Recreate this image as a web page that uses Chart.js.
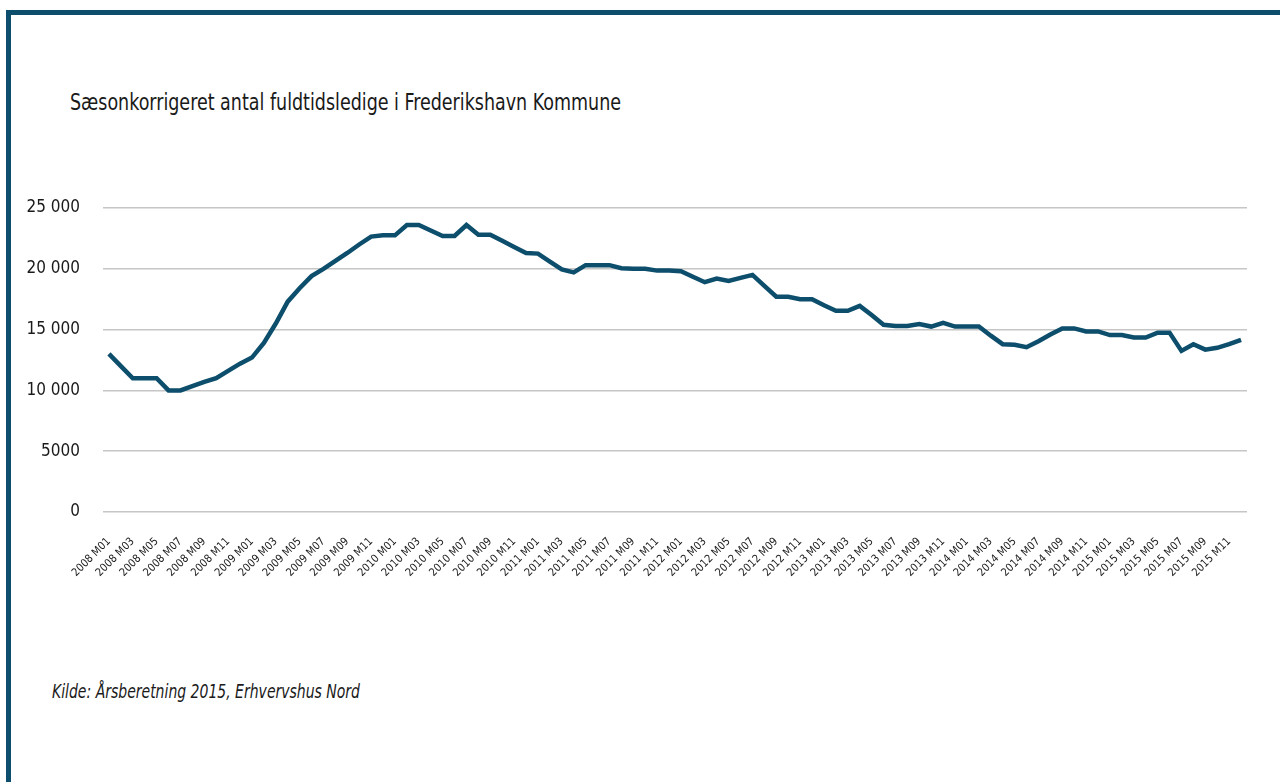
<!DOCTYPE html>
<html lang="da">
<head>
<meta charset="utf-8">
<title>Sæsonkorrigeret antal fuldtidsledige i Frederikshavn Kommune</title>
<script src="https://cdn.jsdelivr.net/npm/chart.js@4.4.1/dist/chart.umd.min.js"></script>
<style>
    html, body { margin: 0; padding: 0; background: #fff; overflow: hidden; }
    body {
        width: 1280px; height: 782px; position: relative;
        font-family: "Liberation Sans Narrow", "DejaVu Sans Condensed", "Roboto", sans-serif;
        color: #1a1a1a;
    }
    .frame {
        position: absolute; left: 6px; top: 10px; width: 1300px; height: 800px;
        border-left: 5px solid #0c4e6b; border-top: 5px solid #0c4e6b;
    }
    .fit { position: absolute; white-space: nowrap; transform-origin: left top; }
    #title { left: 70px; top: 89px; font-size: 23px; }
    #source { left: 52px; top: 680px; font-size: 19px; font-style: italic; }
    #chart-wrap { position: absolute; left: 0; top: 0; width: 1280px; height: 782px; }
</style>
</head>
<body>
<div class="frame"></div>
<div id="title" class="fit" data-width="551">Sæsonkorrigeret antal fuldtidsledige i Frederikshavn Kommune</div>
<div id="source" class="fit" data-width="308">Kilde: Årsberetning 2015, Erhvervshus Nord</div>
<div id="chart-wrap"><canvas id="chart"></canvas></div>

<script>
// ===== DATA =====
const YEARS = [2008, 2009, 2010, 2011, 2012, 2013, 2014, 2015];
const MONTHS = ['M01', 'M02', 'M03', 'M04', 'M05', 'M06', 'M07', 'M08', 'M09', 'M10', 'M11', 'M12'];

// Full-time unemployed, seasonally adjusted, 2008 M01 .. 2015 M12
const unemployed = [
    13000, 12000, 11000, 11000, 11000, 10000, 10000, 10350, 10700, 11000, 11600, 12200,   // 2008
    12700, 13900, 15500, 17300, 18400, 19400, 20000, 20650, 21300, 22000, 22650, 22750,   // 2009
    22750, 23600, 23600, 23150, 22700, 22700, 23600, 22800, 22800, 22300, 21800, 21300,   // 2010
    21250, 20600, 19950, 19700, 20300, 20300, 20300, 20050, 20000, 20000, 19850, 19850,   // 2011
    19800, 19350, 18900, 19200, 19000, 19250, 19500, 18600, 17700, 17700, 17500, 17500,   // 2012
    17000, 16550, 16550, 16950, 16200, 15400, 15300, 15300, 15450, 15250, 15550, 15250,   // 2013
    15250, 15250, 14500, 13800, 13750, 13550, 14050, 14600, 15100, 15100, 14850, 14850,   // 2014
    14550, 14550, 14350, 14350, 14750, 14750, 13250, 13800, 13350, 13500, 13800, 14150    // 2015
];

const Y_TICKS = [0, 5000, 10000, 15000, 20000, 25000];
const Y_TICK_LABELS = ['0', '5000', '10 000', '15 000', '20 000', '25 000'];

const LINE_COLOR = '#0c4e6b';
const TICK_FONT = '"Liberation Sans Narrow", "DejaVu Sans Condensed", "Roboto", sans-serif';

// ===== HELPERS =====
function buildLabels() {
    const labels = [];
    YEARS.forEach(year => {
        MONTHS.forEach(m => labels.push(`${year} ${m}`));
    });
    return labels;
}

// squeeze a text line to the width it has in the picture
function fitText(el) {
    const target = parseFloat(el.dataset.width);
    const w = el.getBoundingClientRect().width;
    if (w > 0) {
        el.style.transform = `scaleX(${target / w})`;
    }
}

// ===== CHART =====
document.querySelectorAll('.fit').forEach(fitText);

const labels = buildLabels();
const ctx = document.getElementById('chart');

new Chart(ctx, {
    type: 'line',
    data: {
        labels: labels,
        datasets: [{
            label: 'Fuldtidsledige',
            data: unemployed,
            borderColor: LINE_COLOR,
            backgroundColor: LINE_COLOR,
            borderWidth: 4.5,
            pointRadius: 0,
            tension: 0,
            fill: false
        }]
    },
    options: {
        responsive: true,
        maintainAspectRatio: false,
        animation: false,
        layout: {
            padding: { left: 0, right: 33, top: 208, bottom: 0 }
        },
        plugins: {
            legend: { display: false },
            tooltip: { enabled: false }
        },
        scales: {
            x: {
                type: 'category',
                offset: true,
                grid: { display: false, drawTicks: false },
                border: { display: false },
                afterFit: scale => { scale.height = 270; },
                ticks: {
                    autoSkip: false,
                    minRotation: 45,
                    maxRotation: 45,
                    padding: 23,
                    color: '#1a1a1a',
                    font: { family: TICK_FONT, size: 11 },
                    callback: (value, index) => index % 2 === 0 ? labels[index] : ''
                }
            },
            y: {
                min: 0,
                max: 25000,
                afterFit: scale => { scale.width = 103; },
                afterBuildTicks: scale => {
                    scale.ticks = Y_TICKS.map(v => ({ value: v }));
                },
                grid: { color: '#c6c6c6', lineWidth: 1.5, drawTicks: false },
                border: { display: false },
                ticks: {
                    padding: 23,
                    color: '#1a1a1a',
                    font: { family: TICK_FONT, size: 17 },
                    callback: value => Y_TICK_LABELS[Y_TICKS.indexOf(value)]
                }
            }
        }
    }
});
</script>
</body>
</html>
